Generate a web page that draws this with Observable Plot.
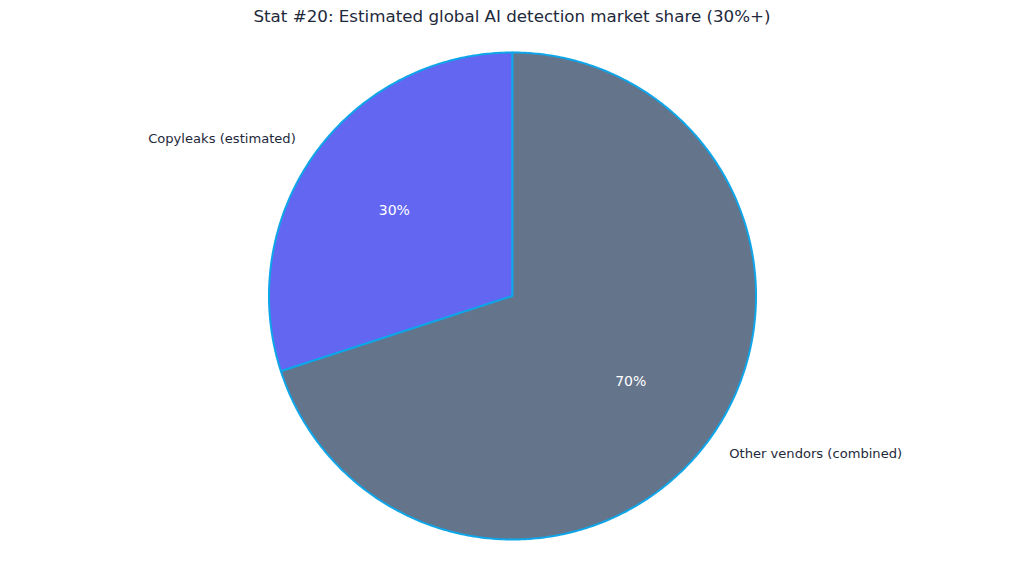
<!DOCTYPE html>
<html>
<head>
<meta charset="utf-8">
<script src="https://cdn.jsdelivr.net/npm/d3@7"></script>
<script src="https://cdn.jsdelivr.net/npm/@observablehq/plot@0.6"></script>
<style>
  html, body { margin: 0; padding: 0; background: #fff; }
  #title { height: 32px; line-height: 32px; text-align: center; font-family: "DejaVu Sans", sans-serif; font-size: 16.7px; color: #1e293b; width: 1024px; }
  svg { display: block; }
</style>
</head>
<body>
<div id="title">Stat #20: Estimated global AI detection market share (30%+)</div>
<div id="chart"></div>
<script>
const categories = ["Copyleaks (estimated)", "Other vendors (combined)"];
const shares = [30, 70];
const colors = ["#6366F1", "#64748B"];

const W = 1024, H = 540;
const cx = 512, cy = 263.5, R = 243.5;

const total = d3.sum(shares);
let start = 90;
const slices = categories.map((c, i) => {
  const sweep = shares[i] / total * 360;
  const a0 = start, a1 = start + sweep;
  start = a1;
  const coords = [[0, 0]];
  const n = Math.max(2, Math.ceil(sweep * 2));
  for (let k = 0; k <= n; k++) {
    const a = (a0 + (a1 - a0) * k / n) * Math.PI / 180;
    coords.push([Math.cos(a), Math.sin(a)]);
  }
  coords.push([0, 0]);
  const mid = (a0 + a1) / 2 * Math.PI / 180;
  return {
    name: c, value: shares[i], color: colors[i],
    feature: {type: "Feature", properties: {name: c}, geometry: {type: "Polygon", coordinates: [coords]}},
    lx: 1.1 * Math.cos(mid), ly: 1.1 * Math.sin(mid),
    px: 0.6 * Math.cos(mid), py: 0.6 * Math.sin(mid),
    right: Math.cos(mid) >= 0
  };
});

const projection = d3.geoIdentity().reflectY(true).scale(R).translate([cx, cy]);

const plot = Plot.plot({
  width: W, height: H,
  margin: 0,
  projection,
  style: {fontFamily: "DejaVu Sans, sans-serif"},
  marks: [
    Plot.geo(slices, {geometry: d => d.feature, fill: d => d.color, stroke: "#0EA5E9", strokeWidth: 2, strokeLinejoin: "round"}),
    Plot.text(slices.filter(d => d.right), {x: "lx", y: "ly", text: "name", textAnchor: "start", fill: "#1e293b", fontSize: 13.1}),
    Plot.text(slices.filter(d => !d.right), {x: "lx", y: "ly", text: "name", textAnchor: "end", fill: "#1e293b", fontSize: 13.1}),
    Plot.text(slices, {x: "px", y: "py", text: d => d.value + "%", fill: "white", fontSize: 14})
  ]
});
document.getElementById("chart").appendChild(plot);
</script>
</body>
</html>
